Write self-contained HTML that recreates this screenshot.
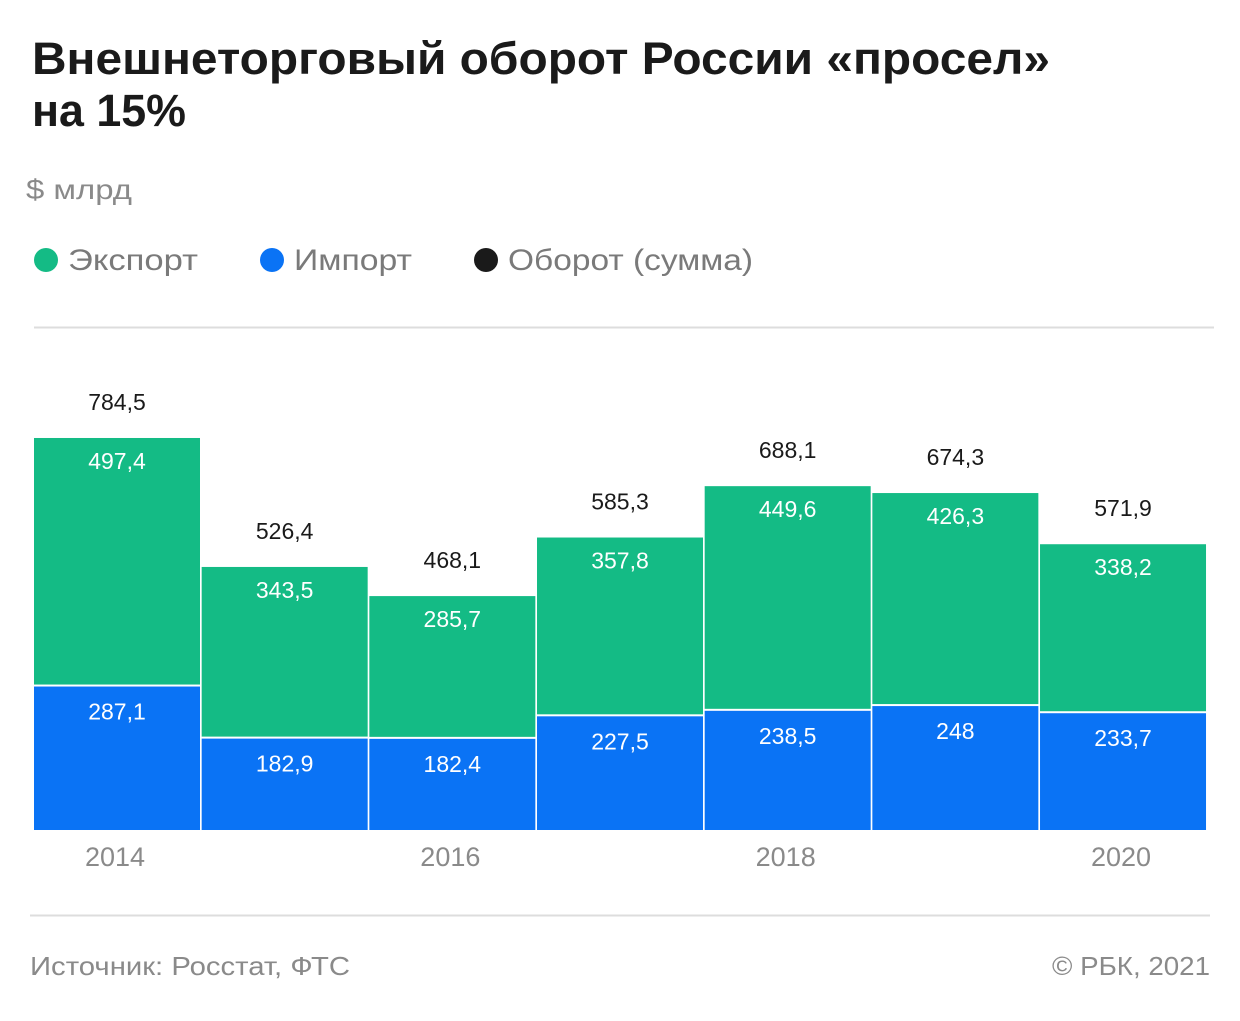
<!DOCTYPE html>
<html><head><meta charset="utf-8"><style>
body{margin:0;background:#fff;width:1240px;height:1016px;overflow:hidden;font-family:"Liberation Sans",sans-serif;}
</style></head><body>
<svg width="1240" height="1016" xmlns="http://www.w3.org/2000/svg">
<text x="32" y="74" font-size="45" font-weight="bold" fill="#1a1a1a" textLength="1018" lengthAdjust="spacingAndGlyphs">Внешнеторговый оборот России «просел»</text>
<text x="32" y="126" font-size="45" font-weight="bold" fill="#1a1a1a" textLength="154" lengthAdjust="spacingAndGlyphs">на 15%</text>
<text x="26" y="199" font-size="28" fill="#8a8a8a" textLength="106" lengthAdjust="spacingAndGlyphs">$ млрд</text>
<g>
<circle cx="46" cy="260" r="12" fill="#14bb85"/>
<text x="68" y="270" font-size="30" fill="#7a7a7a" textLength="130" lengthAdjust="spacingAndGlyphs">Экспорт</text>
<circle cx="272" cy="260" r="12" fill="#0a73f5"/>
<text x="294" y="270" font-size="30" fill="#7a7a7a" textLength="118" lengthAdjust="spacingAndGlyphs">Импорт</text>
<circle cx="486" cy="260" r="12" fill="#1a1a1a"/>
<text x="508" y="270" font-size="30" fill="#7a7a7a" textLength="245" lengthAdjust="spacingAndGlyphs">Оборот (сумма)</text>
</g>
<line x1="34" y1="327.5" x2="1214" y2="327.5" stroke="#ddd" stroke-width="2"/>
<g id="bars"></g>
<line x1="30" y1="915.5" x2="1210" y2="915.5" stroke="#ddd" stroke-width="2"/>
<text x="30" y="975" font-size="26" fill="#8a8a8a" textLength="320" lengthAdjust="spacingAndGlyphs">Источник: Росстат, ФТС</text>
<text x="1052" y="975" font-size="26" fill="#8a8a8a" textLength="158" lengthAdjust="spacingAndGlyphs">© РБК, 2021</text>
</svg>
<script>
const years=["2014","2015","2016","2017","2018","2019","2020"];
const exportVals=[497.4,343.5,285.7,357.8,449.6,426.3,338.2];
const importVals=[287.1,182.9,182.4,227.5,238.5,248,233.7];
const totalVals=[784.5,526.4,468.1,585.3,688.1,674.3,571.9];
const xLabels=["2014","","2016","","2018","","2020"];
const base=830, k=0.4997, x0=34, slot=167.67, bw=166;
const y=v=>base-v*k;
const fmt=v=>String(v).replace('.',',');
const g=document.getElementById('bars');
const NS='http://www.w3.org/2000/svg';
function mk(tag,attrs,txt){const e=document.createElementNS(NS,tag);for(const a in attrs)e.setAttribute(a,attrs[a]);if(txt!==undefined)e.textContent=txt;g.appendChild(e);return e;}
years.forEach((yr,i)=>{
  const x=x0+i*slot, cx=x+bw/2;
  const ti=y(importVals[i]), tt=y(importVals[i]+exportVals[i]);
  let r=mk('rect',{x:x,y:ti,width:bw,height:base-ti,fill:'#0a73f5'});
  
  
  r=mk('rect',{x:x,y:tt,width:bw,height:ti-tt-2,fill:'#14bb85'});
  
  
  let t=mk('text',{x:cx,y:ti+33,'font-size':23,fill:'#fff','text-anchor':'middle'},fmt(importVals[i]));
  
  
  t=mk('text',{x:cx,y:tt+31,'font-size':23,fill:'#fff','text-anchor':'middle'},fmt(exportVals[i]));
  
  
  t=mk('text',{x:cx,y:y(totalVals[i])-28,'font-size':23,fill:'#1a1a1a','text-anchor':'middle'},fmt(totalVals[i]));
  
  
  if(xLabels[i]){
    t=mk('text',{x:cx-2,y:866,'font-size':27,fill:'#8a8a8a','text-anchor':'middle'},xLabels[i]);
    
    
  }
});
</script>
</body></html>
